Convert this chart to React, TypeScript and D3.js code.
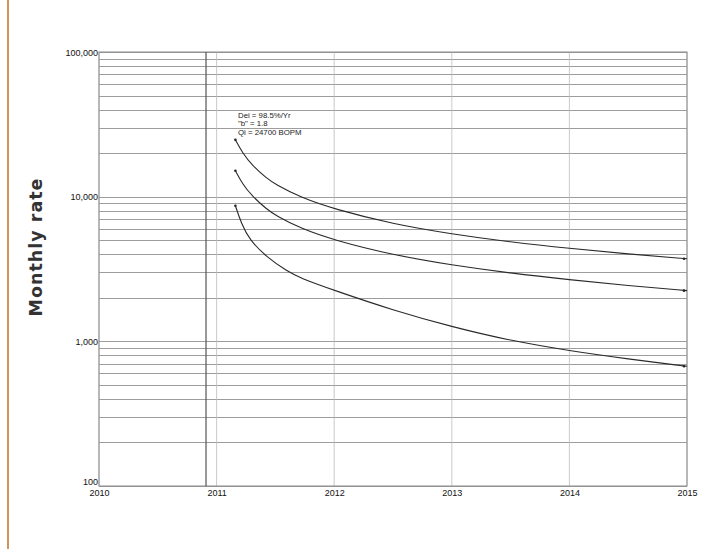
import { useRef, useEffect, RefObject } from 'react';
import * as d3 from 'd3';

// x axis years and y axis (log) tick labels
const years: number[] = [2010, 2011, 2012, 2013, 2014, 2015];
const rateTicks: number[] = [100, 1000, 10000, 100000];
// dark vertical marker just before 2011
const markerYear: number = 2010.91;

// decline curves: [year, monthly rate]
const upperCurve: [number, number][] = [
  [2011.16, 24700], [2011.22, 20100], [2011.3, 16540], [2011.43, 13300],
  [2011.5, 12180], [2011.71, 9900], [2012, 8200], [2012.5, 6470],
  [2013, 5520], [2013.5, 4855], [2014, 4383], [2014.5, 4020], [2015, 3720],
];
const middleCurve: [number, number][] = [
  [2011.16, 15100], [2011.22, 12260], [2011.3, 10110], [2011.43, 8140],
  [2011.5, 7445], [2011.71, 6050], [2012, 5000], [2012.5, 3955],
  [2013, 3365], [2013.5, 2960], [2014, 2665], [2014.5, 2430], [2015, 2240],
];
const lowerCurve: [number, number][] = [
  [2011.16, 8650], [2011.21, 6540], [2011.28, 5010], [2011.43, 3800],
  [2011.6, 3050], [2011.71, 2740], [2012, 2250], [2012.5, 1640],
  [2013, 1260], [2013.5, 1010], [2014, 860], [2014.5, 755], [2015, 672],
];
const annotation: string[] = ['Dei = 98.5%/Yr', '"b" = 1.8', 'Qi = 24700 BOPM'];

const DeclineChart = () => {
  const svgRef: RefObject<SVGSVGElement> = useRef(null);

  useEffect(() => {
    const width = 710;
    const height = 549;
    const left = 99;
    const right = 687;
    const top = 52;
    const bottom = 486;

    const x = d3.scaleLinear().domain([2010, 2015]).range([left, right]);
    const y = d3.scaleLog().domain([100, 100000]).range([bottom, top]);

    const svg = d3
      .select(svgRef.current)
      .attr('width', width)
      .attr('height', height)
      .attr('viewBox', [0, 0, width, height])
      .style('font-family', '"Liberation Sans", Arial, sans-serif');
    svg.selectAll('*').remove();

    svg.append('rect').attr('width', width).attr('height', height).attr('fill', '#fff');

    // orange rule down the left edge
    svg
      .append('line')
      .attr('x1', 8)
      .attr('x2', 8)
      .attr('y1', 0)
      .attr('y2', height)
      .attr('stroke', '#cf9459')
      .attr('stroke-width', 2);

    // horizontal log grid
    svg
      .append('g')
      .attr('stroke', '#929292')
      .attr('stroke-width', 0.9)
      .selectAll('line')
      .data(y.ticks())
      .join('line')
      .attr('x1', left)
      .attr('x2', right)
      .attr('y1', (d) => Math.round(y(d)) + 0.5)
      .attr('y2', (d) => Math.round(y(d)) + 0.5);

    // vertical year grid
    svg
      .append('g')
      .attr('stroke', '#bdbdbd')
      .attr('stroke-width', 0.8)
      .selectAll('line')
      .data(years)
      .join('line')
      .attr('x1', (d) => x(d))
      .attr('x2', (d) => x(d))
      .attr('y1', top)
      .attr('y2', bottom);

    svg
      .append('rect')
      .attr('x', left)
      .attr('y', top)
      .attr('width', right - left)
      .attr('height', bottom - top)
      .attr('fill', 'none')
      .attr('stroke', '#8a8a8a')
      .attr('stroke-width', 1);

    svg
      .append('line')
      .attr('x1', x(markerYear))
      .attr('x2', x(markerYear))
      .attr('y1', top)
      .attr('y2', bottom)
      .attr('stroke', '#555')
      .attr('stroke-width', 1.2);

    // axes
    const yAxis = svg
      .append('g')
      .attr('transform', `translate(${left},0)`)
      .call(d3.axisLeft(y).tickValues(rateTicks).tickFormat(d3.format(',')).tickSize(0).tickPadding(1));
    yAxis.select('.domain').remove();
    yAxis
      .selectAll('text')
      .attr('font-size', 9)
      .attr('font-family', '"Liberation Sans", Arial, sans-serif')
      .attr('fill', '#111')
      .attr('dy', (d) => (d === 100 ? '-0.2em' : '0.35em'));

    const xAxis = svg
      .append('g')
      .attr('transform', `translate(0,${bottom})`)
      .call(d3.axisBottom(x).tickValues(years).tickFormat(d3.format('d')).tickSize(0).tickPadding(4));
    xAxis.select('.domain').remove();
    xAxis
      .selectAll('text')
      .attr('font-size', 9)
      .attr('font-family', '"Liberation Sans", Arial, sans-serif')
      .attr('fill', '#111');

    // decline curves
    const line = d3
      .line<[number, number]>()
      .x((d) => x(d[0]))
      .y((d) => y(d[1]))
      .curve(d3.curveBasis);

    const curves = [upperCurve, middleCurve, lowerCurve];
    svg
      .append('g')
      .attr('fill', 'none')
      .attr('stroke', '#2a2a2a')
      .attr('stroke-width', 1.1)
      .selectAll('path')
      .data(curves)
      .join('path')
      .attr('d', (d) => line(d));

    svg
      .append('g')
      .attr('fill', '#222')
      .selectAll('circle')
      .data(curves.flatMap((c) => [c[0], c[c.length - 1]]))
      .join('circle')
      .attr('cx', (d, i) => x(d[0]) - (i % 2 ? 3 : 0))
      .attr('cy', (d) => y(d[1]))
      .attr('r', 1.3);

    // annotation
    svg
      .append('g')
      .selectAll('text')
      .data(annotation)
      .join('text')
      .attr('x', 238)
      .attr('y', (d, i) => 117.5 + i * 8.8)
      .attr('font-size', 7.8)
      .attr('fill', '#222')
      .text((d) => d);

    // y axis title
    svg
      .append('text')
      .attr('transform', 'translate(42,247) rotate(-90)')
      .attr('text-anchor', 'middle')
      .attr('font-family', '"DejaVu Sans", Verdana, sans-serif')
      .attr('font-weight', 'bold')
      .attr('font-size', 17.5)
      .attr('letter-spacing', 1)
      .attr('fill', '#333')
      .text('Monthly rate');
  }, []);

  return <svg ref={svgRef} style={{ position: 'absolute', left: 0, top: 0, display: 'block' }}></svg>;
};

export default function App() {
  return <DeclineChart />;
}
